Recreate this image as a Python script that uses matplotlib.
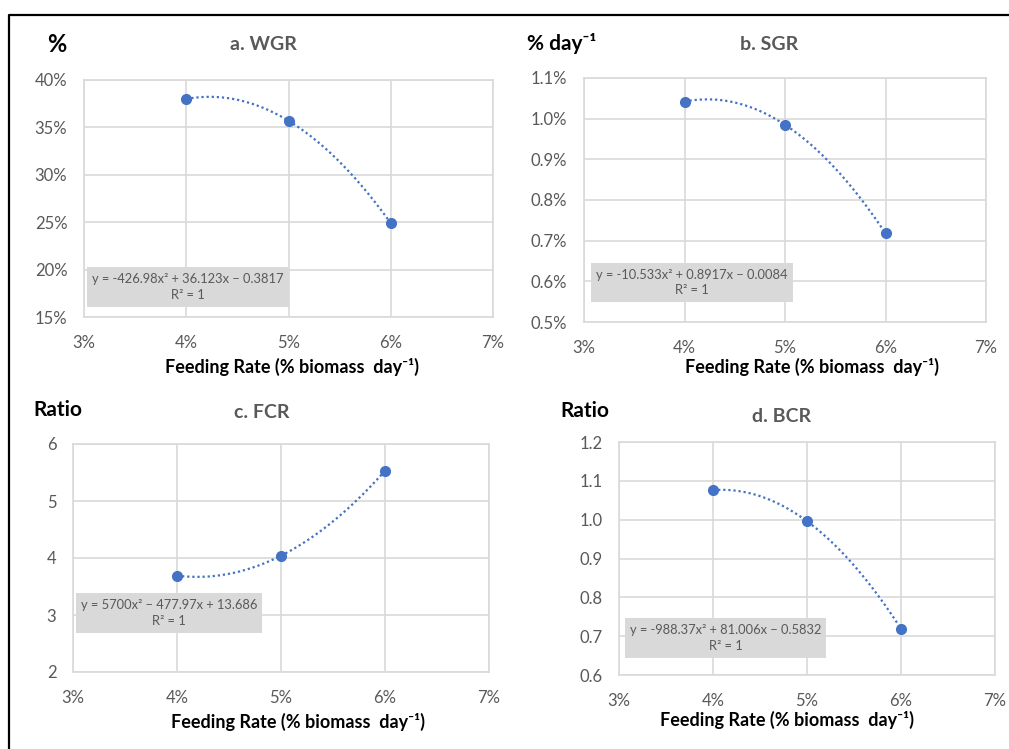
import numpy as np
import matplotlib
matplotlib.use("Agg")
import matplotlib.pyplot as plt
from matplotlib.patches import Rectangle
from matplotlib.lines import Line2D
from matplotlib.ticker import FuncFormatter

plt.rcParams['font.family'] = ['Lato', 'DejaVu Sans']

# Feeding rates (fraction of biomass per day)
feed_rate = [0.04, 0.05, 0.06]

# Measured responses
wgr = [0.380, 0.357, 0.249]
sgr = [0.01042, 0.00985, 0.00718]
fcr = [3.69, 4.04, 5.53]
bcr = [1.076, 0.996, 0.719]

titles = ['a. WGR', 'b. SGR', 'c. FCR', 'd. BCR']
units = ['%', '% day⁻¹', 'Ratio', 'Ratio']
equations = ['y = -426.98x² + 36.123x − 0.3817\nR² = 1',
             'y = -10.533x² + 0.8917x − 0.0084\nR² = 1',
             'y = 5700x² − 477.97x + 13.686\nR² = 1',
             'y = -988.37x² + 81.006x − 0.5832\nR² = 1']
x_ticks = [0.03, 0.04, 0.05, 0.06, 0.07]
y_ticks_list = [[0.15, 0.20, 0.25, 0.30, 0.35, 0.40],
                [0.005, 0.006, 0.007, 0.008, 0.009, 0.010, 0.011],
                [2, 3, 4, 5, 6],
                [0.6, 0.7, 0.8, 0.9, 1.0, 1.1, 1.2]]
y_fmt = [lambda v, p: f'{v*100:.0f}%',
         lambda v, p: f'{v*100:.1f}%',
         lambda v, p: f'{v:.0f}',
         lambda v, p: f'{v:.1f}']
series = [wgr, sgr, fcr, bcr]

W, H = 1009, 749
fig = plt.figure(figsize=(W / 100, H / 100), dpi=100)


def fx(x):
    return x / W


def fy(y):
    return 1 - y / H


# pixel layout per panel: plot box, unit label, title, eq box, xlabel
plot_boxes = [(84, 80, 493, 317), (584, 78, 986, 322),
              (73, 444, 489, 672), (619, 442, 995, 675)]
unit_pos = [(47, 44), (527, 43), (33, 410), (560, 411)]
title_pos = [(263, 44), (769, 44), (262, 413), (782, 416)]
eq_boxes = [(87, 267, 289, 307), (591, 263, 793, 302),
            (76, 593, 262, 633), (625, 618, 826, 658)]
xlabel_pos = [(292, 367), (812, 367), (298, 722), (787, 720)]

blue = '#4472C4'
grid_c = '#D9D9D9'
text_c = '#595959'

for i in range(4):
    x0, y0, x1, y1 = plot_boxes[i]
    ax = fig.add_axes([fx(x0), fy(y1), fx(x1 - x0), (y1 - y0) / H])
    yt = y_ticks_list[i]
    ax.set_xlim(x_ticks[0], x_ticks[-1])
    ax.set_ylim(yt[0], yt[-1])
    ax.set_xticks(x_ticks)
    ax.set_yticks(yt)
    ax.xaxis.set_major_formatter(FuncFormatter(lambda v, p: f'{v*100:.0f}%'))
    ax.yaxis.set_major_formatter(FuncFormatter(y_fmt[i]))
    ax.grid(True, color=grid_c, linewidth=1.2)
    ax.set_axisbelow(True)
    for s in ax.spines.values():
        s.set_color(grid_c)
        s.set_linewidth(1.2)
    ax.tick_params(length=0, colors=text_c, labelsize=12)
    ax.tick_params(axis='x', pad=13)
    ax.tick_params(axis='y', pad=12)

    # quadratic trendline through the points
    coef = np.polyfit(feed_rate, series[i], 2)
    xs = np.linspace(feed_rate[0], feed_rate[-1], 200)
    ax.plot(xs, np.polyval(coef, xs), linestyle=(0, (1, 1.3)), color=blue, linewidth=1.6)
    ax.plot(feed_rate, series[i], 'o', color=blue, markersize=7, zorder=5)

    ux, uy = unit_pos[i]
    fig.text(fx(ux), fy(uy), units[i], fontsize=17 if i == 0 else 15,
             fontweight='bold', color='black', ha='left', va='center')
    tx, ty = title_pos[i]
    fig.text(fx(tx), fy(ty), titles[i], fontsize=14, fontweight='bold',
             color=text_c, ha='center', va='center')

    bx0, by0, bx1, by1 = eq_boxes[i]
    fig.patches.append(Rectangle((fx(bx0), fy(by1)), fx(bx1 - bx0), (by1 - by0) / H,
                                 transform=fig.transFigure, facecolor=grid_c,
                                 edgecolor='none', zorder=3))
    fig.text(fx((bx0 + bx1) / 2), fy((by0 + by1) / 2), equations[i], fontsize=9.3,
             color=text_c, ha='center', va='center', linespacing=1.35, zorder=4)

    lx, ly = xlabel_pos[i]
    fig.text(fx(lx), fy(ly), 'Feeding Rate (% biomass  day⁻¹)', fontsize=13,
             fontweight='bold', color='black', ha='center', va='center')

# outer frame (left and top edges)
fig.lines.append(Line2D([fx(9), fx(9), 1], [0, fy(15), fy(15)],
                        transform=fig.transFigure, color='black', linewidth=1.6))

fig.savefig('out.png', dpi=100)
